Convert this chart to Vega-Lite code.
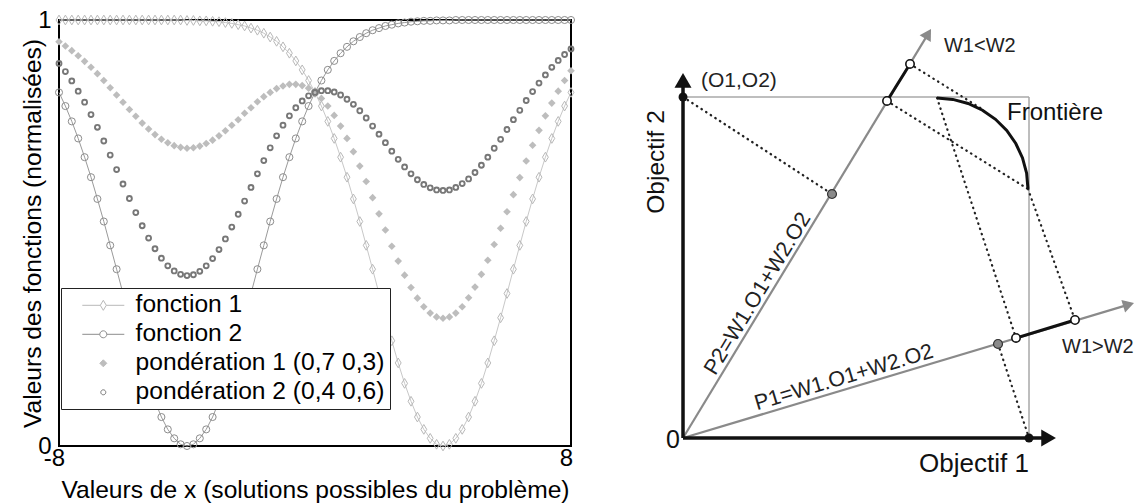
{
  "$schema": "https://vega.github.io/schema/vega-lite/v6.json",
  "background": "white",
  "padding": {"left": 19, "top": 7, "right": 0, "bottom": 0},
  "spacing": 20,
  "config": {
    "font": "Liberation Sans",
    "view": {"stroke": null},
    "axis": {"labelFont": "Liberation Sans", "titleFont": "Liberation Sans", "labelColor": "#000", "titleColor": "#000", "labelFontSize": 24, "titleFontSize": 24.6, "titleFontWeight": "normal", "ticks": false, "domain": false, "grid": false},
    "legend": {"labelFont": "Liberation Sans"}
  },
  "datasets": {
    "curves": [
      {"x": -8.0, "f1": 1, "f2": 0.830, "p1": 0.949, "p2": 0.898},
      {"x": -7.8, "f1": 1, "f2": 0.798, "p1": 0.939, "p2": 0.879},
      {"x": -7.6, "f1": 1, "f2": 0.762, "p1": 0.928, "p2": 0.857},
      {"x": -7.4, "f1": 1, "f2": 0.722, "p1": 0.916, "p2": 0.833},
      {"x": -7.2, "f1": 1, "f2": 0.678, "p1": 0.903, "p2": 0.807},
      {"x": -7.0, "f1": 1, "f2": 0.631, "p1": 0.889, "p2": 0.778},
      {"x": -6.8, "f1": 1, "f2": 0.580, "p1": 0.874, "p2": 0.748},
      {"x": -6.6, "f1": 1, "f2": 0.527, "p1": 0.858, "p2": 0.716},
      {"x": -6.4, "f1": 1, "f2": 0.471, "p1": 0.841, "p2": 0.683},
      {"x": -6.2, "f1": 1, "f2": 0.415, "p1": 0.824, "p2": 0.649},
      {"x": -6.0, "f1": 1, "f2": 0.358, "p1": 0.807, "p2": 0.615},
      {"x": -5.8, "f1": 1, "f2": 0.301, "p1": 0.790, "p2": 0.581},
      {"x": -5.6, "f1": 1, "f2": 0.247, "p1": 0.774, "p2": 0.548},
      {"x": -5.4, "f1": 1, "f2": 0.195, "p1": 0.758, "p2": 0.517},
      {"x": -5.2, "f1": 1, "f2": 0.147, "p1": 0.744, "p2": 0.488},
      {"x": -5.0, "f1": 1, "f2": 0.105, "p1": 0.731, "p2": 0.463},
      {"x": -4.8, "f1": 1, "f2": 0.068, "p1": 0.720, "p2": 0.441},
      {"x": -4.6, "f1": 1, "f2": 0.039, "p1": 0.712, "p2": 0.423},
      {"x": -4.4, "f1": 1, "f2": 0.018, "p1": 0.705, "p2": 0.411},
      {"x": -4.2, "f1": 1, "f2": 0.004, "p1": 0.701, "p2": 0.403},
      {"x": -4.0, "f1": 0.999, "f2": 0, "p1": 0.699, "p2": 0.400},
      {"x": -3.8, "f1": 0.999, "f2": 0.004, "p1": 0.700, "p2": 0.402},
      {"x": -3.6, "f1": 0.998, "f2": 0.018, "p1": 0.704, "p2": 0.410},
      {"x": -3.4, "f1": 0.998, "f2": 0.039, "p1": 0.710, "p2": 0.423},
      {"x": -3.2, "f1": 0.997, "f2": 0.068, "p1": 0.718, "p2": 0.440},
      {"x": -3.0, "f1": 0.996, "f2": 0.105, "p1": 0.728, "p2": 0.461},
      {"x": -2.8, "f1": 0.994, "f2": 0.147, "p1": 0.740, "p2": 0.486},
      {"x": -2.6, "f1": 0.992, "f2": 0.195, "p1": 0.753, "p2": 0.514},
      {"x": -2.4, "f1": 0.989, "f2": 0.247, "p1": 0.766, "p2": 0.544},
      {"x": -2.2, "f1": 0.986, "f2": 0.301, "p1": 0.781, "p2": 0.575},
      {"x": -2.0, "f1": 0.981, "f2": 0.358, "p1": 0.794, "p2": 0.607},
      {"x": -1.8, "f1": 0.976, "f2": 0.415, "p1": 0.808, "p2": 0.639},
      {"x": -1.6, "f1": 0.969, "f2": 0.471, "p1": 0.820, "p2": 0.670},
      {"x": -1.4, "f1": 0.960, "f2": 0.527, "p1": 0.830, "p2": 0.700},
      {"x": -1.2, "f1": 0.950, "f2": 0.580, "p1": 0.839, "p2": 0.728},
      {"x": -1.0, "f1": 0.937, "f2": 0.631, "p1": 0.845, "p2": 0.753},
      {"x": -0.8, "f1": 0.922, "f2": 0.678, "p1": 0.849, "p2": 0.775},
      {"x": -0.6, "f1": 0.904, "f2": 0.722, "p1": 0.849, "p2": 0.794},
      {"x": -0.4, "f1": 0.883, "f2": 0.762, "p1": 0.846, "p2": 0.810},
      {"x": -0.2, "f1": 0.858, "f2": 0.798, "p1": 0.840, "p2": 0.822},
      {"x": 0.0, "f1": 0.830, "f2": 0.830, "p1": 0.830, "p2": 0.830},
      {"x": 0.2, "f1": 0.798, "f2": 0.858, "p1": 0.816, "p2": 0.834},
      {"x": 0.4, "f1": 0.762, "f2": 0.883, "p1": 0.798, "p2": 0.834},
      {"x": 0.6, "f1": 0.722, "f2": 0.904, "p1": 0.776, "p2": 0.831},
      {"x": 0.8, "f1": 0.678, "f2": 0.922, "p1": 0.751, "p2": 0.824},
      {"x": 1.0, "f1": 0.631, "f2": 0.937, "p1": 0.722, "p2": 0.814},
      {"x": 1.2, "f1": 0.580, "f2": 0.950, "p1": 0.691, "p2": 0.802},
      {"x": 1.4, "f1": 0.527, "f2": 0.960, "p1": 0.657, "p2": 0.787},
      {"x": 1.6, "f1": 0.471, "f2": 0.969, "p1": 0.621, "p2": 0.770},
      {"x": 1.8, "f1": 0.415, "f2": 0.976, "p1": 0.583, "p2": 0.751},
      {"x": 2.0, "f1": 0.358, "f2": 0.981, "p1": 0.545, "p2": 0.732},
      {"x": 2.2, "f1": 0.301, "f2": 0.986, "p1": 0.507, "p2": 0.712},
      {"x": 2.4, "f1": 0.247, "f2": 0.989, "p1": 0.469, "p2": 0.692},
      {"x": 2.6, "f1": 0.195, "f2": 0.992, "p1": 0.434, "p2": 0.673},
      {"x": 2.8, "f1": 0.147, "f2": 0.994, "p1": 0.401, "p2": 0.655},
      {"x": 3.0, "f1": 0.105, "f2": 0.996, "p1": 0.372, "p2": 0.639},
      {"x": 3.2, "f1": 0.068, "f2": 0.997, "p1": 0.347, "p2": 0.625},
      {"x": 3.4, "f1": 0.039, "f2": 0.998, "p1": 0.327, "p2": 0.614},
      {"x": 3.6, "f1": 0.018, "f2": 0.998, "p1": 0.312, "p2": 0.606},
      {"x": 3.8, "f1": 0.004, "f2": 0.999, "p1": 0.303, "p2": 0.601},
      {"x": 4.0, "f1": 0, "f2": 0.999, "p1": 0.300, "p2": 0.600},
      {"x": 4.2, "f1": 0.004, "f2": 0.999, "p1": 0.303, "p2": 0.601},
      {"x": 4.4, "f1": 0.018, "f2": 1, "p1": 0.312, "p2": 0.607},
      {"x": 4.6, "f1": 0.039, "f2": 1, "p1": 0.327, "p2": 0.616},
      {"x": 4.8, "f1": 0.068, "f2": 1, "p1": 0.348, "p2": 0.627},
      {"x": 5.0, "f1": 0.105, "f2": 1, "p1": 0.373, "p2": 0.642},
      {"x": 5.2, "f1": 0.147, "f2": 1, "p1": 0.403, "p2": 0.659},
      {"x": 5.4, "f1": 0.195, "f2": 1, "p1": 0.436, "p2": 0.678},
      {"x": 5.6, "f1": 0.247, "f2": 1, "p1": 0.473, "p2": 0.699},
      {"x": 5.8, "f1": 0.301, "f2": 1, "p1": 0.511, "p2": 0.720},
      {"x": 6.0, "f1": 0.358, "f2": 1, "p1": 0.550, "p2": 0.743},
      {"x": 6.2, "f1": 0.415, "f2": 1, "p1": 0.590, "p2": 0.766},
      {"x": 6.4, "f1": 0.471, "f2": 1, "p1": 0.630, "p2": 0.788},
      {"x": 6.6, "f1": 0.527, "f2": 1, "p1": 0.669, "p2": 0.811},
      {"x": 6.8, "f1": 0.580, "f2": 1, "p1": 0.706, "p2": 0.832},
      {"x": 7.0, "f1": 0.631, "f2": 1, "p1": 0.741, "p2": 0.852},
      {"x": 7.2, "f1": 0.678, "f2": 1, "p1": 0.775, "p2": 0.871},
      {"x": 7.4, "f1": 0.722, "f2": 1, "p1": 0.805, "p2": 0.889},
      {"x": 7.6, "f1": 0.762, "f2": 1, "p1": 0.833, "p2": 0.905},
      {"x": 7.8, "f1": 0.798, "f2": 1, "p1": 0.858, "p2": 0.919},
      {"x": 8.0, "f1": 0.830, "f2": 1, "p1": 0.881, "p2": 0.932}
    ],
    "segs": [
      {"kind": "cadre", "u": 0, "v": 1, "u2": 1, "v2": 1},
      {"kind": "cadre", "u": 1, "v": 1, "u2": 1, "v2": 0},
      {"kind": "rayon", "u": 0, "v": 0, "u2": 0.7084, "v2": 1.1853},
      {"kind": "rayon", "u": 0, "v": 0, "u2": 1.2879, "v2": 0.3912},
      {"kind": "axe", "u": 0, "v": 0, "u2": 1.05, "v2": 0},
      {"kind": "axe", "u": 0, "v": 0, "u2": 0, "v2": 1.045},
      {"kind": "projection", "u": 0, "v": 1, "u2": 0.4306, "v2": 0.7155},
      {"kind": "projection", "u": 0.5896, "v": 0.9883, "u2": 0.9971, "v2": 0.7302},
      {"kind": "projection", "u": 0.6561, "v": 1.0968, "u2": 0.8642, "v2": 0.9648},
      {"kind": "projection", "u": 0.7341, "v": 0.9971, "u2": 0.9624, "v2": 0.2933},
      {"kind": "projection", "u": 0.9971, "v": 0.7302, "u2": 1.1329, "v2": 0.3460},
      {"kind": "projection", "u": 0.9104, "v": 0.2757, "u2": 1, "v2": 0},
      {"kind": "gras", "u": 0.5896, "v": 0.9883, "u2": 0.6561, "v2": 1.0968},
      {"kind": "gras", "u": 0.9624, "v": 0.2933, "u2": 1.1329, "v2": 0.3460}
    ],
    "arc": [
      {"i": 0, "u": 0.7341, "v": 0.9971},
      {"i": 1, "u": 0.7798, "v": 0.9930},
      {"i": 2, "u": 0.8240, "v": 0.9809},
      {"i": 3, "u": 0.8656, "v": 0.9613},
      {"i": 4, "u": 0.9032, "v": 0.9346},
      {"i": 5, "u": 0.9356, "v": 0.9018},
      {"i": 6, "u": 0.9618, "v": 0.8636},
      {"i": 7, "u": 0.9812, "v": 0.8214},
      {"i": 8, "u": 0.9931, "v": 0.7765},
      {"i": 9, "u": 0.9971, "v": 0.7302}
    ],
    "pts": [
      {"kind": "objectif", "u": 1, "v": 0},
      {"kind": "objectif", "u": 0, "v": 1},
      {"kind": "pondere", "u": 0.4306, "v": 0.7155},
      {"kind": "pondere", "u": 0.9104, "v": 0.2757},
      {"kind": "extreme", "u": 0.5896, "v": 0.9883},
      {"kind": "extreme", "u": 0.6561, "v": 1.0968},
      {"kind": "extreme", "u": 0.9624, "v": 0.2933},
      {"kind": "extreme", "u": 1.1329, "v": 0.3460}
    ],
    "arrows": [
      {"kind": "axe1", "u": 1.0566, "v": 0},
      {"kind": "axe2", "u": 0, "v": 1.0487},
      {"kind": "rayon2", "u": 0.7084, "v": 1.1853},
      {"kind": "rayon1", "u": 1.2879, "v": 0.3912}
    ],
    "labels": [
      {"role": "coin", "label": "(O1,O2)", "u": 0.052, "v": 1.047},
      {"role": "obj2", "label": "Objectif 2", "u": -0.0751, "v": 0.8094},
      {"role": "obj1", "label": "Objectif 1", "u": 0.841, "v": -0.0762},
      {"role": "origine", "label": "0", "u": -0.0289, "v": -0.0059},
      {"role": "poids", "label": "W1<W2", "u": 0.7543, "v": 1.1496},
      {"role": "poids", "label": "W1>W2", "u": 1.0954, "v": 0.2669},
      {"role": "front", "label": "Frontière", "u": 0.9364, "v": 0.9531},
      {"role": "p2", "label": "P2=W1.O1+W2.O2", "u": 0.2168, "v": 0.4223},
      {"role": "p1", "label": "P1=W1.O1+W2.O2", "u": 0.4653, "v": 0.1760}
    ]
  },
  "hconcat": [
    {
      "width": 512,
      "height": 426,
      "view": {"stroke": "#000", "strokeWidth": 2},
      "data": {"name": "curves"},
      "transform": [{"fold": ["f1", "f2", "p1", "p2"], "as": ["serie", "val"]}],
      "encoding": {
        "x": {"field": "x", "type": "quantitative", "scale": {"domain": [-8, 8], "nice": false, "zero": false},
          "axis": {"values": [-8, 8], "labelExpr": "'' + datum.value", "labelPadding": 0, "labelOffset": -5, "labelFlush": false, "title": "Valeurs de x (solutions possibles du problème)", "titlePadding": 8}},
        "y": {"field": "val", "type": "quantitative", "scale": {"domain": [0, 1], "nice": false},
          "axis": {"values": [0, 1], "labelExpr": "'' + datum.value", "labelPadding": 8, "labelFlush": false, "title": "Valeurs des fonctions (normalisées)", "titlePadding": -8}}
      },
      "layer": [
        {"transform": [{"filter": "datum.serie == 'f1'"}], "mark": {"type": "line", "color": "#c8c8c8", "strokeWidth": 1}},
        {"transform": [{"filter": "datum.serie == 'f2'"}], "mark": {"type": "line", "color": "#9a9a9a", "strokeWidth": 1}},
        {"transform": [{"filter": "datum.serie == 'f1'"}], "mark": {"type": "point", "shape": "M0,-1L0.6,0L0,1L-0.6,0Z", "filled": false, "stroke": "#b8b8b8", "strokeWidth": 1, "size": 95, "opacity": 1}},
        {"transform": [{"filter": "datum.serie == 'f2'"}], "mark": {"type": "point", "shape": "circle", "filled": false, "stroke": "#8c8c8c", "strokeWidth": 1, "size": 50, "opacity": 1}},
        {"transform": [{"filter": "datum.serie == 'p1'"}], "mark": {"type": "point", "shape": "diamond", "filled": true, "color": "#bdbdbd", "size": 58, "opacity": 1}},
        {"transform": [{"filter": "datum.serie == 'p2'"}], "mark": {"type": "point", "shape": "circle", "filled": false, "stroke": "#777777", "strokeWidth": 1.9, "size": 24, "opacity": 1}},
        {
          "transform": [{"filter": "datum.x > 100"}],
          "mark": {"type": "point", "filled": true, "opacity": 1, "strokeWidth": 1},
          "encoding": {
            "shape": {"field": "serie", "type": "nominal",
              "scale": {"domain": ["f1", "f2", "p1", "p2"], "range": ["M-4.2,0H-0.6M0.6,0H4.2M0,-1L0.6,0L0,1L-0.6,0Z", "M-4.2,0H-0.7M0.7,0H4.2M0.7,0A0.7,0.7,0,1,1,-0.7,0A0.7,0.7,0,1,1,0.7,0Z", "M0,-0.7L0.7,0L0,0.7L-0.7,0Z", "M0.5,0A0.5,0.5,0,1,1,-0.5,0A0.5,0.5,0,1,1,0.5,0Z"]},
              "legend": {"orient": "none", "legendX": 2, "legendY": 268, "title": null, "strokeColor": "#222", "fillColor": "#fff", "padding": 5, "labelFontSize": 24.6, "labelColor": "#000", "labelLimit": 400, "symbolSize": 100, "symbolOffset": 25, "labelOffset": 20, "rowPadding": 4, "symbolStrokeWidth": 1,
                "labelExpr": "datum.value == 'f1' ? 'fonction 1' : datum.value == 'f2' ? 'fonction 2' : datum.value == 'p1' ? 'pondération 1 (0,7 0,3)' : 'pondération 2 (0,4 0,6)\u00a0\u00a0\u00a0\u00a0\u00a0'"}},
            "fill": {"field": "serie", "type": "nominal", "scale": {"domain": ["f1", "f2", "p1", "p2"], "range": ["#ffffff", "#ffffff", "#bdbdbd", "#ffffff"]}},
            "stroke": {"field": "serie", "type": "nominal", "scale": {"domain": ["f1", "f2", "p1", "p2"], "range": ["#b8b8b8", "#8c8c8c", "#bdbdbd", "#777777"]}}
          }
        }
      ]
    },
    {
      "width": 540,
      "height": 426,
      "view": {"stroke": null},
      "encoding": {
        "x": {"field": "u", "type": "quantitative", "scale": {"domain": [-0.2428, 1.3179], "nice": false, "zero": false}, "axis": null},
        "y": {"field": "v", "type": "quantitative", "scale": {"domain": [-0.0235, 1.2258], "nice": false, "zero": false}, "axis": null}
      },
      "layer": [
        {"data": {"name": "segs"}, "transform": [{"filter": "datum.kind == 'cadre'"}], "mark": {"type": "rule", "color": "#a8a8a8", "strokeWidth": 1.5}, "encoding": {"x2": {"field": "u2"}, "y2": {"field": "v2"}}},
        {"data": {"name": "segs"}, "transform": [{"filter": "datum.kind == 'rayon'"}], "mark": {"type": "rule", "color": "#8a8a8a", "strokeWidth": 2.2}, "encoding": {"x2": {"field": "u2"}, "y2": {"field": "v2"}}},
        {"data": {"name": "segs"}, "transform": [{"filter": "datum.kind == 'projection'"}], "mark": {"type": "rule", "color": "#222", "strokeWidth": 2.2, "strokeCap": "round", "strokeDash": [0.5, 5]}, "encoding": {"x2": {"field": "u2"}, "y2": {"field": "v2"}}},
        {"data": {"name": "segs"}, "transform": [{"filter": "datum.kind == 'axe'"}], "mark": {"type": "rule", "color": "#111", "strokeWidth": 3.5}, "encoding": {"x2": {"field": "u2"}, "y2": {"field": "v2"}}},
        {"data": {"name": "segs"}, "transform": [{"filter": "datum.kind == 'gras'"}], "mark": {"type": "rule", "color": "#111", "strokeWidth": 3}, "encoding": {"x2": {"field": "u2"}, "y2": {"field": "v2"}}},
        {"data": {"name": "arc"}, "mark": {"type": "line", "color": "#111", "strokeWidth": 3}, "encoding": {"order": {"field": "i", "type": "quantitative"}}},
        {"data": {"name": "pts"}, "transform": [{"filter": "datum.kind == 'objectif'"}], "mark": {"type": "point", "shape": "circle", "filled": true, "color": "#111", "size": 80, "opacity": 1}},
        {"data": {"name": "pts"}, "transform": [{"filter": "datum.kind == 'pondere'"}], "mark": {"type": "point", "shape": "circle", "fill": "#8a8a8a", "stroke": "#333", "strokeWidth": 1.2, "size": 80, "opacity": 1}},
        {"data": {"name": "pts"}, "transform": [{"filter": "datum.kind == 'extreme'"}], "mark": {"type": "point", "shape": "circle", "fill": "#fff", "stroke": "#111", "strokeWidth": 1.6, "size": 70, "opacity": 1}},
        {"data": {"name": "arrows"}, "transform": [{"filter": "datum.kind == 'axe1'"}], "mark": {"type": "point", "shape": "triangle-right", "filled": true, "color": "#111", "size": 289, "opacity": 1}},
        {"data": {"name": "arrows"}, "transform": [{"filter": "datum.kind == 'axe2'"}], "mark": {"type": "point", "shape": "triangle-up", "filled": true, "color": "#111", "size": 289, "opacity": 1}},
        {"data": {"name": "arrows"}, "transform": [{"filter": "datum.kind == 'rayon2'"}], "mark": {"type": "point", "shape": "triangle-up", "filled": true, "color": "#8a8a8a", "size": 169, "angle": 31.2, "opacity": 1}},
        {"data": {"name": "arrows"}, "transform": [{"filter": "datum.kind == 'rayon1'"}], "mark": {"type": "point", "shape": "triangle-up", "filled": true, "color": "#8a8a8a", "size": 169, "angle": 73.3, "opacity": 1}},
        {"data": {"name": "labels"}, "transform": [{"filter": "datum.role == 'coin'"}], "mark": {"type": "text", "fontSize": 21, "align": "left", "baseline": "middle", "color": "#222"}, "encoding": {"text": {"field": "label"}}},
        {"data": {"name": "labels"}, "transform": [{"filter": "datum.role == 'obj2'"}], "mark": {"type": "text", "fontSize": 24.5, "align": "center", "baseline": "middle", "angle": -90, "color": "#111"}, "encoding": {"text": {"field": "label"}}},
        {"data": {"name": "labels"}, "transform": [{"filter": "datum.role == 'obj1'"}], "mark": {"type": "text", "fontSize": 26, "align": "center", "baseline": "middle", "color": "#111"}, "encoding": {"text": {"field": "label"}}},
        {"data": {"name": "labels"}, "transform": [{"filter": "datum.role == 'origine'"}], "mark": {"type": "text", "fontSize": 25, "align": "center", "baseline": "middle", "color": "#111"}, "encoding": {"text": {"field": "label"}}},
        {"data": {"name": "labels"}, "transform": [{"filter": "datum.role == 'poids'"}], "mark": {"type": "text", "fontSize": 20, "align": "left", "baseline": "middle", "color": "#222"}, "encoding": {"text": {"field": "label"}}},
        {"data": {"name": "labels"}, "transform": [{"filter": "datum.role == 'front'"}], "mark": {"type": "text", "fontSize": 24, "align": "left", "baseline": "middle", "color": "#111"}, "encoding": {"text": {"field": "label"}}},
        {"data": {"name": "labels"}, "transform": [{"filter": "datum.role == 'p2'"}], "mark": {"type": "text", "fontSize": 21.5, "align": "center", "baseline": "middle", "angle": -58.8, "color": "#222"}, "encoding": {"text": {"field": "label"}}},
        {"data": {"name": "labels"}, "transform": [{"filter": "datum.role == 'p1'"}], "mark": {"type": "text", "fontSize": 21.5, "align": "center", "baseline": "middle", "angle": -16.7, "color": "#222"}, "encoding": {"text": {"field": "label"}}}
      ]
    }
  ]
}
